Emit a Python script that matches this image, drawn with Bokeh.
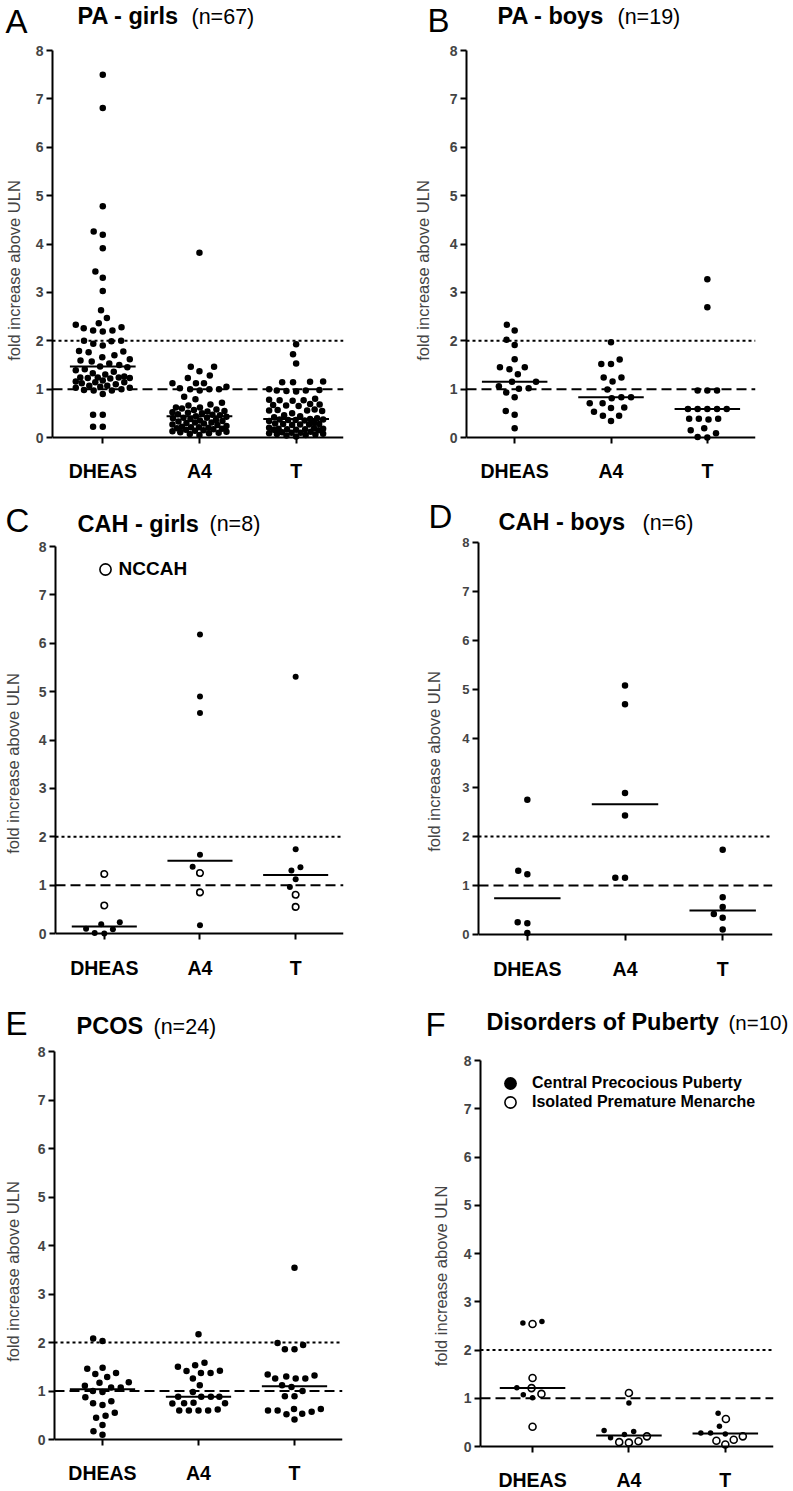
import math
import numpy as np
from bokeh.plotting import figure
from bokeh.models import Range1d, FixedTicker, Span, Label, Legend, LegendItem
from bokeh.core.properties import value
from bokeh.layouts import column, row
from bokeh.embed import file_html
from bokeh.resources import INLINE

FONT = "Liberation Sans"
categories = ["DHEAS", "A4", "T"]
y_ticks = [0, 1, 2, 3, 4, 5, 6, 7, 8]
y_label = "fold increase above ULN"

# ---------------- A: PA - girls (n=67) ----------------
pa_girls_dheas = [7.50, 6.81, 4.78, 4.26, 4.19, 3.91, 3.43, 3.30, 3.03, 2.63, 2.47,
                  2.36, 2.33, 2.28, 2.26, 2.21, 2.21, 2.19,
                  2.00, 2.00, 1.99, 1.94, 1.90,
                  1.79, 1.78, 1.76, 1.70, 1.66, 1.62,
                  1.59, 1.57, 1.53, 1.50, 1.47,
                  1.45, 1.41, 1.39, 1.36, 1.33, 1.30,
                  1.26, 1.24, 1.24, 1.24, 1.23, 1.23, 1.22,
                  1.18, 1.16, 1.14, 1.14, 1.12, 1.10,
                  1.07, 1.07, 1.05, 1.03, 1.03, 1.00,
                  0.98, 0.97, 0.97, 0.90,
                  0.47, 0.47, 0.22, 0.22]
pa_girls_a4 = [3.82, 1.46, 1.46, 1.37, 1.28, 1.23, 1.12, 1.12, 1.12, 1.05, 1.02,
               1.00, 1.00, 1.00, 0.97, 0.84, 0.79, 0.72, 0.68, 0.66, 0.62, 0.62,
               0.60, 0.58, 0.57, 0.55, 0.54, 0.52, 0.51, 0.50, 0.48, 0.47, 0.46,
               0.44,
               0.43, 0.41, 0.41, 0.40, 0.38, 0.36, 0.35, 0.34, 0.33, 0.31, 0.31,
               0.30, 0.29, 0.27, 0.26, 0.24, 0.22, 0.21, 0.21, 0.20, 0.19, 0.18,
               0.17, 0.16, 0.15, 0.14, 0.13, 0.12, 0.11, 0.10, 0.09, 0.07, 0.05]
pa_girls_t = [1.93, 1.72, 1.53, 1.16, 1.15, 1.14, 1.14, 1.00, 0.98, 0.97, 0.97, 0.96, 0.95,
              0.80, 0.78, 0.77, 0.77, 0.76, 0.69, 0.68, 0.67, 0.66, 0.65,
              0.58, 0.57, 0.56, 0.56, 0.55,
              0.50, 0.46, 0.44, 0.42, 0.40, 0.38,
              0.37, 0.37, 0.36, 0.36, 0.35, 0.34, 0.30, 0.29, 0.28, 0.28, 0.27, 0.27, 0.26,
              0.20, 0.19, 0.18, 0.18, 0.17, 0.17, 0.16, 0.16, 0.15,
              0.12, 0.11, 0.10, 0.10, 0.09, 0.08, 0.07, 0.06, 0.05, 0.04, 0.02]

# ---------------- B: PA - boys (n=19) ----------------
pa_boys_dheas = [2.33, 2.21, 2.02, 1.91, 1.62, 1.45, 1.45, 1.41, 1.31, 1.15,
                 1.15, 1.06, 1.02, 1.01, 0.93, 0.83, 0.55, 0.47, 0.19]
pa_boys_a4 = [1.97, 1.61, 1.52, 1.52, 1.24, 1.24, 1.16, 0.99, 0.83, 0.83,
              0.81, 0.71, 0.71, 0.62, 0.61, 0.53, 0.45, 0.45, 0.34]
pa_boys_t = [3.27, 2.69, 0.97, 0.97, 0.97, 0.59, 0.59, 0.59, 0.59, 0.59,
             0.39, 0.39, 0.39, 0.37, 0.19, 0.15, 0.09, 0.01, 0.00]

# ---------------- C: CAH - girls (n=8) ----------------
cah_girls_dheas = [1.23, 0.58, 0.23, 0.19, 0.10, 0.09, 0.01, 0.00]
cah_girls_dheas_nccah = [True, True, False, False, False, False, False, False]
cah_girls_a4 = [6.18, 4.90, 4.56, 1.63, 1.38, 1.25, 0.85, 0.17]
cah_girls_a4_nccah = [False, False, False, False, False, True, True, False]
cah_girls_t = [5.31, 1.74, 1.37, 1.30, 1.12, 0.96, 0.80, 0.55]
cah_girls_t_nccah = [False, False, False, False, False, False, True, True]

# ---------------- D: CAH - boys (n=6) ----------------
cah_boys_dheas = [2.75, 1.30, 1.23, 0.25, 0.23, 0.03]
cah_boys_a4 = [5.08, 4.70, 2.89, 2.43, 1.16, 1.16]
cah_boys_t = [1.73, 0.76, 0.56, 0.42, 0.34, 0.10]

# ---------------- E: PCOS (n=24) ----------------
pcos_dheas = [2.08, 2.03, 1.48, 1.46, 1.37, 1.35, 1.29, 1.18, 1.17, 1.11, 1.07, 1.07,
              1.00, 0.98, 0.87, 0.79, 0.75, 0.71, 0.55, 0.49, 0.45, 0.30, 0.17, 0.10]
pcos_a4 = [2.17, 1.58, 1.53, 1.50, 1.42, 1.41, 1.37, 1.37, 1.26, 1.12, 0.98, 0.88,
           0.88, 0.88, 0.88, 0.76, 0.75, 0.75, 0.74, 0.62, 0.60, 0.60, 0.60, 0.60]
pcos_t = [3.54, 1.99, 1.95, 1.86, 1.86, 1.34, 1.32, 1.30, 1.26, 1.26, 1.26, 1.12,
          1.08, 1.00, 0.89, 0.89, 0.63, 0.63, 0.60, 0.60, 0.57, 0.53, 0.52, 0.41]

# ---------------- F: Disorders of Puberty (n=10) ----------------
puberty_dheas = [2.59, 2.56, 2.54, 1.42, 1.22, 1.21, 1.09, 1.07, 1.01, 0.41]
puberty_dheas_group = ["CPP", "CPP", "IPM", "IPM", "CPP", "IPM", "IPM", "CPP", "CPP", "IPM"]
puberty_a4 = [1.11, 0.90, 0.33, 0.31, 0.25, 0.21, 0.18, 0.11, 0.09, 0.08]
puberty_a4_group = ["IPM", "CPP", "CPP", "CPP", "CPP", "IPM", "CPP", "IPM", "IPM", "IPM"]
puberty_t = [0.69, 0.57, 0.42, 0.28, 0.28, 0.26, 0.21, 0.14, 0.12, 0.04]
puberty_t_group = ["CPP", "IPM", "CPP", "CPP", "CPP", "CPP", "IPM", "IPM", "IPM", "IPM"]


def swarm_offsets(values, px_per_unit, d=9.7, max_half=27.0):
    """Greedy beeswarm (pixel offsets) with a capped half-width; dense rows overlap."""
    vals = np.asarray(values, dtype=float)
    order = np.argsort(vals, kind="stable")
    placed = []
    offs = np.zeros(len(vals))
    grid = np.arange(-max_half, max_half + 0.01, 0.5)
    for idx in order:
        y = vals[idx] * px_per_unit
        cands = [0.0]
        for xj, yj in placed:
            dy = y - yj
            if abs(dy) < d:
                dx = math.sqrt(d * d - dy * dy)
                cands += [xj - dx, xj + dx]
        cands = [c for c in cands if abs(c) <= max_half + 1e-9]
        cands.sort(key=lambda c: (round(abs(c), 4), c))
        chosen = None
        for c in cands:
            if all((c - xj) ** 2 + (y - yj) ** 2 >= d * d - 1e-6 for xj, yj in placed):
                chosen = c
                break
        if chosen is None:
            pts = np.array(placed)
            dist = np.min((grid[:, None] - pts[None, :, 0]) ** 2 + (y - pts[None, :, 1]) ** 2, axis=1)
            best = np.max(dist)
            ok = grid[dist >= best - 1e-6]
            chosen = float(ok[np.argmin(np.abs(ok))])
        offs[idx] = chosen
        placed.append((chosen, y))
    return offs


def no_frame_align(fig):
    if "frame_align" in fig.properties():
        fig.frame_align = False


def make_header(P):
    W, hh = P["W"], P["hh"]
    h = figure(width=W, height=hh, x_range=Range1d(0, W), y_range=Range1d(hh, 0),
               x_axis_type=None, y_axis_type=None, toolbar_location=None,
               output_backend="svg", title=None,
               min_border_left=0, min_border_right=0, min_border_top=0, min_border_bottom=0)
    no_frame_align(h)
    h.outline_line_color = None
    h.xgrid.visible = False
    h.ygrid.visible = False
    cx, cy = P["col_x"], P["row_y"]
    items = [(P["letter"], P["letter_text"], 33, "normal"),
             (P["title"], P["title_text"], 23.5, "bold"),
             (P["n"], P["n_text"], P.get("n_size", 21.5), "normal")]
    for (px, baseline), txt, size, style in items:
        mid = baseline - 0.32 * size
        h.add_layout(Label(x=px - cx, y=mid - cy, text=txt, text_font=FONT,
                           text_font_size=f"{size}px", text_font_style=style,
                           text_align="left", text_baseline="middle",
                           text_color="black"))
    return h


def make_plot(P, series, open_flags=None, filled_size=6.5, open_size=6.5):
    W = P["W"]
    plot_top = P["row_y"] + P["hh"]
    plotH = P["H"] - P["hh"]
    top_border = P["y8"] - plot_top
    frame_h = plotH - top_border
    unit = (P["y0"] - P["y8"]) / 8.0
    y_lo = 8.0 - frame_h / unit
    left = P["xL"] - P["col_x"]
    fw = P["xR"] - P["xL"]
    xs, xe = P["xr"]
    p = figure(width=W, height=plotH, x_range=Range1d(xs, xe), y_range=Range1d(y_lo, 8.0),
               x_axis_location="above", output_backend="svg", toolbar_location=None,
               title=None, min_border_left=left, min_border_top=top_border,
               min_border_right=W - left - fw, min_border_bottom=0)
    no_frame_align(p)
    p.outline_line_color = None
    p.xgrid.visible = False
    p.ygrid.visible = False

    ya = p.yaxis[0]
    ya.ticker = FixedTicker(ticks=y_ticks)
    ya.bounds = (0, 8)
    ya.axis_line_width = 2
    ya.major_tick_line_width = 2
    ya.major_tick_out = 6
    ya.major_tick_in = 0
    ya.minor_tick_line_color = None
    ya.major_label_text_font = FONT
    ya.major_label_text_font_style = "bold"
    ya.major_label_text_font_size = P.get("tick_size", "14px")
    ya.major_label_standoff = 3
    ya.axis_label = y_label
    ya.axis_label_text_font = FONT
    ya.axis_label_text_font_style = "normal"
    ya.axis_label_text_font_size = "16.5px"
    ya.axis_label_standoff = P["ylab_standoff"]

    xa = p.xaxis[0]
    xa.fixed_location = 0
    xa.ticker = FixedTicker(ticks=[1, 2, 3])
    xa.axis_line_width = 2
    xa.major_tick_line_width = 2
    xa.major_tick_out = 0
    xa.major_tick_in = 6
    xa.minor_tick_line_color = None
    xa.major_label_text_font_size = "1px"
    xa.major_label_text_color = None
    xa.major_label_standoff = 0

    p.add_layout(Span(location=2, dimension="width", line_color="black", line_width=2,
                      line_dash="3 3", level="underlay"))
    p.add_layout(Span(location=1, dimension="width", line_color="black", line_width=2,
                      line_dash="10 5", level="underlay"))

    px_x = fw / (xe - xs)
    fx_, fy_, ox_, oy_ = [], [], [], []
    mx0, mx1, my = [], [], []
    for i, vals in enumerate(series):
        offs = swarm_offsets(vals, unit)
        flags = open_flags[i] if open_flags is not None else [False] * len(vals)
        for v, o, f in zip(vals, offs, flags):
            xv = (i + 1) + o / px_x
            if f:
                ox_.append(xv); oy_.append(v)
            else:
                fx_.append(xv); fy_.append(v)
        med = float(np.median(vals))
        mx0.append(i + 1 - 0.34); mx1.append(i + 1 + 0.34); my.append(med)

    r_filled = p.scatter(fx_, fy_, size=filled_size, marker="circle",
                         fill_color="black", line_color=None)
    r_open = None
    if ox_:
        r_open = p.scatter(ox_, oy_, size=open_size, marker="circle",
                           fill_color="white", line_color="black", line_width=1.6)
    p.segment(mx0, my, mx1, my, line_color="black", line_width=2)

    for i, cat in enumerate(categories):
        p.add_layout(Label(x=i + 1, y=0, y_offset=-(P["cat_y"] - P["y0"]), text=cat,
                           text_font=FONT, text_font_size="19.5px", text_font_style="bold",
                           text_align="center", text_baseline="middle", text_color="black"))
    return p, r_filled, r_open


def add_legend_item(p, P, renderer, text, center, box, text_left, size):
    cxp, cyp = center
    box_left = cxp - box / 2.0
    frame_bottom = P["row_y"] + P["H"]
    loc = (box_left - P["xL"], frame_bottom - (cyp + box / 2.0))
    leg = Legend(items=[LegendItem(label=value(text), renderers=[renderer])],
                 location=loc, orientation="vertical", padding=0, spacing=0, margin=0,
                 glyph_width=box, glyph_height=box, label_height=box,
                 label_standoff=int(round(text_left - box_left - box)),
                 border_line_color=None, background_fill_alpha=0,
                 label_text_font=FONT, label_text_font_style="bold",
                 label_text_font_size=f"{size}px", label_text_color="black")
    p.add_layout(leg)


# page-coordinate layout of the six panels (page origin = top-left of the window);
# letter/title/n entries are (left x, text baseline y)
PA = dict(col_x=0, row_y=0, W=400, H=490, hh=42, xL=52, xR=343, y8=50, y0=437, cat_y=470,
          xr=(0.48, 3.49), ylab_standoff=10,
          letter=(5, 31.7), letter_text="A", title=(77, 23.3), title_text="PA - girls",
          n=(191, 23.3), n_text="(n=67)")
PB = dict(col_x=400, row_y=0, W=393, H=490, hh=42, xL=466, xR=755, y8=50, y0=437, cat_y=470,
          xr=(0.5, 3.5), ylab_standoff=15,
          letter=(427, 30.5), letter_text="B", title=(497, 23.3), title_text="PA - boys",
          n=(617, 23.3), n_text="(n=19)")
PC = dict(col_x=0, row_y=490, W=400, H=490, hh=48, xL=53, xR=343, y8=546, y0=933, cat_y=967,
          xr=(0.49, 3.5), ylab_standoff=14,
          letter=(5, 530.5), letter_text="C", title=(77, 530.7), title_text="CAH - girls",
          n=(209, 530.7), n_text="(n=8)")
PD = dict(col_x=400, row_y=490, W=393, H=490, hh=45, xL=478, xR=772, y8=542, y0=934, cat_y=968,
          xr=(0.5, 3.51), ylab_standoff=16, tick_size="13px",
          letter=(428, 527), letter_text="D", title=(498, 529.2), title_text="CAH - boys",
          n=(642, 529.2), n_text="(n=6)")
PE = dict(col_x=0, row_y=980, W=400, H=511, hh=62, xL=52, xR=342, y8=1051, y0=1439, cat_y=1472,
          xr=(0.5, 3.5), ylab_standoff=13,
          letter=(5, 1034), letter_text="E", title=(76, 1033.3), title_text="PCOS",
          n=(153, 1033.3), n_text="(n=24)")
PF = dict(col_x=400, row_y=980, W=393, H=511, hh=70, xL=480, xR=773, y8=1060, y0=1446, cat_y=1479,
          xr=(0.46, 3.5), ylab_standoff=11,
          letter=(425, 1035), letter_text="F", title=(486, 1029),
          title_text="Disorders of Puberty", n=(728, 1029), n_text="(n=10)", n_size=20.5)

pA, _, _ = make_plot(PA, [pa_girls_dheas, pa_girls_a4, pa_girls_t])
pB, _, _ = make_plot(PB, [pa_boys_dheas, pa_boys_a4, pa_boys_t])
pC, _, rC_open = make_plot(PC, [cah_girls_dheas, cah_girls_a4, cah_girls_t],
                           open_flags=[cah_girls_dheas_nccah, cah_girls_a4_nccah, cah_girls_t_nccah],
                           filled_size=6, open_size=6.5)
add_legend_item(pC, PC, rC_open, "NCCAH", (102.5, 569), 28, 117, 19)
pD, _, _ = make_plot(PD, [cah_boys_dheas, cah_boys_a4, cah_boys_t])
pE, _, _ = make_plot(PE, [pcos_dheas, pcos_a4, pcos_t])
pF, rF_filled, rF_open = make_plot(
    PF, [puberty_dheas, puberty_a4, puberty_t],
    open_flags=[[g == "IPM" for g in puberty_dheas_group],
                [g == "IPM" for g in puberty_a4_group],
                [g == "IPM" for g in puberty_t_group]],
    filled_size=5.5, open_size=7)
add_legend_item(pF, PF, rF_filled, "Central Precocious Puberty", (510, 1083), 32, 532, 16)
add_legend_item(pF, PF, rF_open, "Isolated Premature Menarche", (510, 1102), 28, 532, 16)

panels = [(PA, pA), (PB, pB), (PC, pC), (PD, pD), (PE, pE), (PF, pF)]
cells = [column(make_header(P), p) for P, p in panels]
layout = column(row(cells[0], cells[1]), row(cells[2], cells[3]), row(cells[4], cells[5]))
open("out.html", "w").write(file_html(layout, INLINE))
